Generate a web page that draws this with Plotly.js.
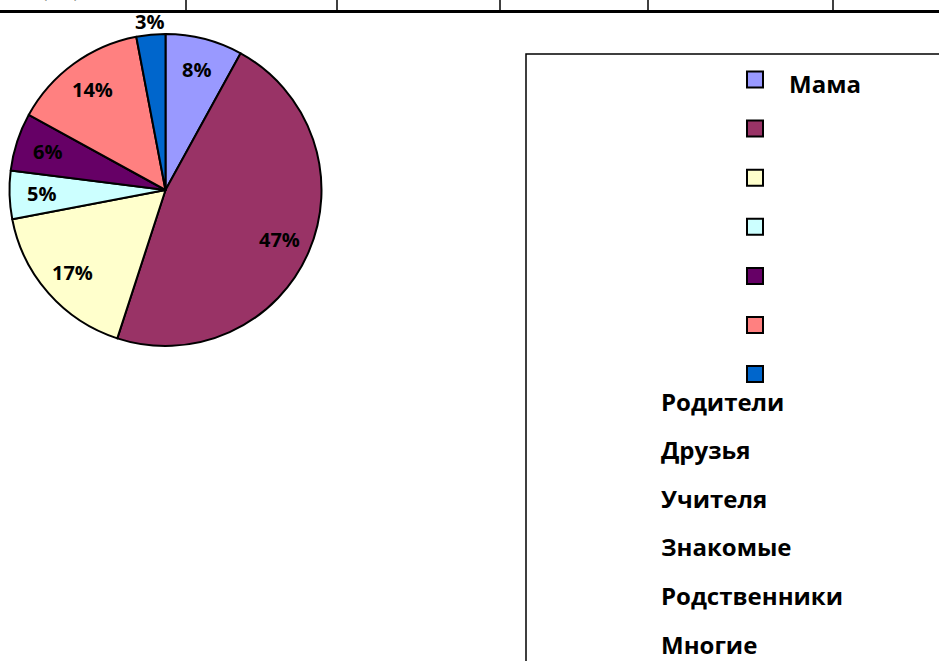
<!DOCTYPE html>
<html>
<head>
<meta charset="utf-8">
<script src="https://cdn.plot.ly/plotly-3.0.1.min.js"></script>
<style>html,body{margin:0;padding:0;background:#fff;}#chart{width:939px;height:661px;}</style>
</head>
<body>
<div id="chart"></div>
<script>
const categories = ["Мама", "Родители", "Друзья", "Учителя", "Знакомые", "Родственники", "Многие"];
const values = [8, 47, 17, 5, 6, 14, 3];
const colors = ["#9999FF", "#993366", "#FFFFCC", "#CCFFFF", "#660066", "#FF8080", "#0066CC"];
const labelOutside = [false, false, false, false, false, false, true];

const W = 939, H = 661;
const px = x => x / W;
const py = y => 1 - y / H;

// pie geometry (pixels)
const cx = 165.5, cy = 190, R = 156;

const trace = {
  type: "pie",
  labels: categories,
  values: values,
  sort: false,
  direction: "clockwise",
  rotation: 0,
  marker: { colors: colors, line: { color: "#000000", width: 2 } },
  textinfo: "none",
  domain: { x: [px(cx - R), px(cx + R)], y: [py(cy + R), py(cy - R)] },
  hoverinfo: "label+percent",
  showlegend: false
};

const shapes = [];
const annotations = [];

// percentage labels placed along each slice's mid angle (computed from the values)
const total = values.reduce((a, b) => a + b, 0);
const pctFont = { family: "Open Sans", size: 20, color: "#000", weight: "bold" };
let cum = 0;
values.forEach((v, i) => {
  const mid = (cum + v / 2) / total;
  cum += v;
  const th = mid * 2 * Math.PI;
  const r = labelOutside[i] ? R * 1.085 : R * 0.795;
  annotations.push({
    xref: "paper", yref: "paper",
    x: px(cx + r * Math.sin(th)), y: py(cy - r * Math.cos(th)),
    xanchor: "center", yanchor: "middle", showarrow: false,
    text: Math.round(v / total * 100) + "%", font: pctFont
  });
});

// table border at top
shapes.push({ type: "line", xref: "paper", yref: "paper", x0: px(-5), x1: px(945), y0: py(11.5), y1: py(11.5), line: { color: "#000", width: 3 } });
[186, 337, 500, 648, 833].forEach(x => {
  shapes.push({ type: "line", xref: "paper", yref: "paper", x0: px(x), x1: px(x), y0: py(-2), y1: py(10), line: { color: "#000", width: 1.5 } });
});
annotations.push({ xref: "paper", yref: "paper", x: px(60), y: py(4), xanchor: "center", yanchor: "bottom", showarrow: false,
  text: "(\u00a0\u00a0\u00a0\u00a0\u00a0\u00a0)", font: { family: "Liberation Serif", size: 18, color: "#444" } });

// legend frame
shapes.push({ type: "rect", xref: "paper", yref: "paper", x0: px(526), x1: px(950), y0: py(54), y1: py(680), line: { color: "#000", width: 1.5 }, fillcolor: "rgba(0,0,0,0)" });

// legend markers
const markerY0 = 79.5, markerStep = 49.1, mx = 755, ms = 8;
categories.forEach((c, i) => {
  const y = markerY0 + i * markerStep;
  shapes.push({ type: "rect", xref: "paper", yref: "paper", x0: px(mx - ms), x1: px(mx + ms), y0: py(y + ms), y1: py(y - ms),
    fillcolor: colors[i], line: { color: "#000", width: 2 } });
});

// legend labels (first beside its marker, the rest listed below as in the reference)
const labelFont = { family: "Open Sans", size: 24, color: "#000", weight: "bold" };
annotations.push({ xref: "paper", yref: "paper", x: px(787), y: py(83.5), xanchor: "left", yanchor: "middle", showarrow: false, text: categories[0], font: labelFont });
categories.slice(1).forEach((c, i) => {
  annotations.push({ xref: "paper", yref: "paper", x: px(659), y: py(401 + i * 48.6), xanchor: "left", yanchor: "middle", showarrow: false, text: c, font: labelFont });
});

const layout = {
  width: W, height: H,
  margin: { l: 0, r: 0, t: 0, b: 0 },
  paper_bgcolor: "#ffffff",
  plot_bgcolor: "#ffffff",
  showlegend: false,
  shapes: shapes,
  annotations: annotations
};

Plotly.newPlot("chart", [trace], layout, { displayModeBar: false, staticPlot: true });
</script>
</body>
</html>
